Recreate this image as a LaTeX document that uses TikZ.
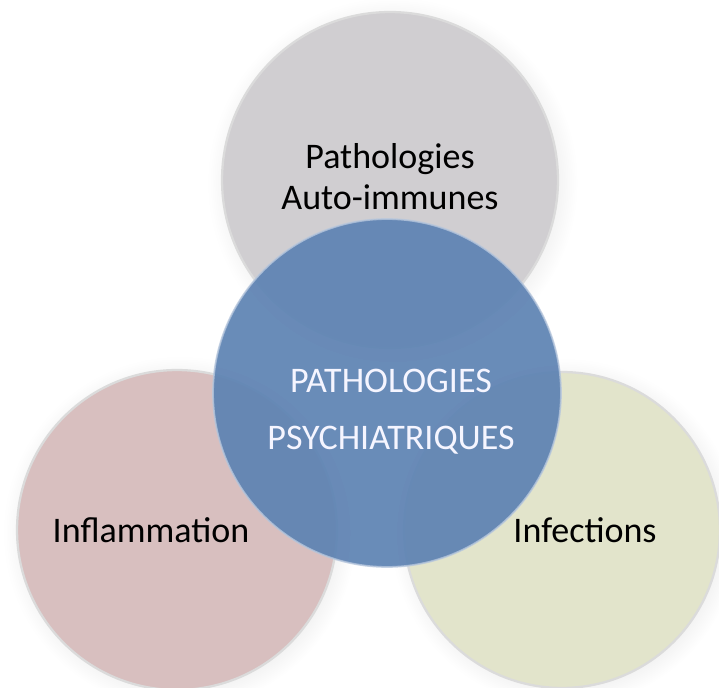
\documentclass[tikz,border=0pt]{standalone}
\usepackage{fontspec}
\setmainfont{Carlito}
\usepackage{xcolor}
\usepackage{tikz}
\usetikzlibrary{shadows}

\definecolor{grisbub}{HTML}{D0CED1}
\definecolor{rosebub}{HTML}{D8BFBF}
\definecolor{vertbub}{HTML}{E2E4CB}
\definecolor{bleubub}{HTML}{5E83B3}

\begin{document}
\begin{tikzpicture}[x=0.02cm,y=-0.02cm,
  bub/.style={circle,inner sep=0pt,draw=white!86!black,line width=1.3pt,
    circular drop shadow={shadow xshift=0.5mm,shadow yshift=-0.5mm,opacity=0.12},
    font=\fontsize{20.5}{23.3}\selectfont,align=center,text=black},
  coeur/.style={circle,inner sep=0pt,fill=bleubub,fill opacity=0.93,text opacity=1,
    draw=white!55!bleubub,draw opacity=0.8,line width=1pt,
    font=\fontsize{20.5}{32.4}\selectfont,align=center,text=white!96!blue}]
\useasboundingbox (0,0) rectangle (719,688);
% les trois cercles autour
\node[bub,fill=grisbub,minimum size=6.72cm] (auto) at (390,180) {};
\node[bub,fill=rosebub,minimum size=6.4cm] (infl) at (177,530) {};
\node[bub,fill=vertbub,minimum size=6.32cm] (infe) at (562,530) {};
\node at (390,177) [font=\fontsize{20.5}{23.3}\selectfont,align=center] {Pathologies\\Auto-immunes};
\node at (151,530) [font=\fontsize{20.5}{23.3}\selectfont] {Inflammation};
% cercle central
\node[coeur,minimum size=6.96cm] (psy) at (387,393) {};
\node at (391,412) [font=\fontsize{20.5}{32.4}\selectfont,align=center,text=white!96!blue] {PATHOLOGIES\\PSYCHIATRIQUES};
\node at (585,530) [font=\fontsize{20.5}{23.3}\selectfont] {Infections};
\end{tikzpicture}
\end{document}
